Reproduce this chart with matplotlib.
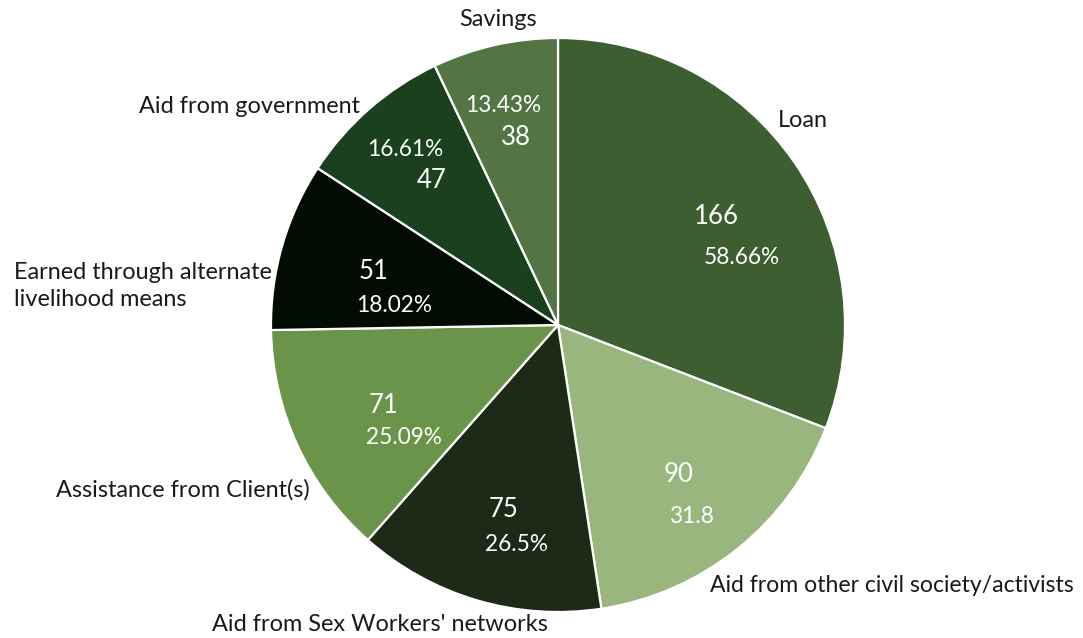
import numpy as np
import matplotlib
matplotlib.use("Agg")
import matplotlib.pyplot as plt

plt.rcParams['font.family'] = ['Lato', 'DejaVu Sans']

categories = ["Loan", "Aid from other civil society/activists", "Aid from Sex Workers' networks",
              "Assistance from Client(s)", "Earned through alternate\nlivelihood means",
              "Aid from government", "Savings"]
counts = [166, 90, 75, 71, 51, 47, 38]
pct_labels = ["58.66%", "31.8", "26.5%", "25.09%", "18.02%", "16.61%", "13.43%"]
colors = ["#3d5e31", "#99b67e", "#1c2b17", "#6a9449", "#020c02", "#1b401e", "#527543"]

# layout (axes units, pie radius = 1)
label_pos = [(0.767, 0.714, 'left'), (0.530, -0.906, 'left'), (-0.620, -1.045, 'center'),
             (-0.864, -0.575, 'right'), (-0.997, 0.136, 'right'), (-0.690, 0.763, 'right'),
             (-0.209, 1.063, 'center')]
label_size = [16.9, 16.6, 16.9, 16.9, 16.9, 16.9, 16.9]
# pct offset relative to the count label, in points (dx, dy)
pct_offset = [(18, -30), (9, -30), (9, -25), (15, -23), (15, -24), (-19, 22), (-9, 23)]

W, H = 1083, 638
fig = plt.figure(figsize=(W / 100, H / 100), dpi=100)
cx, cy, r = 558, 325, 287
ax = fig.add_axes([(cx - r) / W, (H - cy - r) / H, 2 * r / W, 2 * r / H])

wedges, _ = ax.pie(counts, colors=colors, startangle=90, counterclock=False,
                   wedgeprops=dict(edgecolor='white', linewidth=1.6))
ax.set_xlim(-1, 1)
ax.set_ylim(-1, 1)
ax.set_aspect('equal')
ax.axis('off')

for w, cnt, pct, lab, (lx, ly, ha), (ox, oy), fs in zip(wedges, counts, pct_labels, categories,
                                                       label_pos, pct_offset, label_size):
    ang = np.deg2rad((w.theta1 + w.theta2) / 2)
    x, y = 0.67 * np.cos(ang), 0.67 * np.sin(ang)
    ax.text(x, y, str(cnt), ha='center', va='center', color='white', fontsize=18.5)
    ax.annotate(pct, (x, y), xytext=(ox, oy), textcoords='offset points',
                ha='center', va='center', color='white', fontsize=16.3)
    ax.text(lx, ly, lab, ha=ha, va='center', color='#1a1a1a', fontsize=fs,
            multialignment='left', linespacing=1.32)

fig.savefig("out.png", dpi=100, facecolor='white')
